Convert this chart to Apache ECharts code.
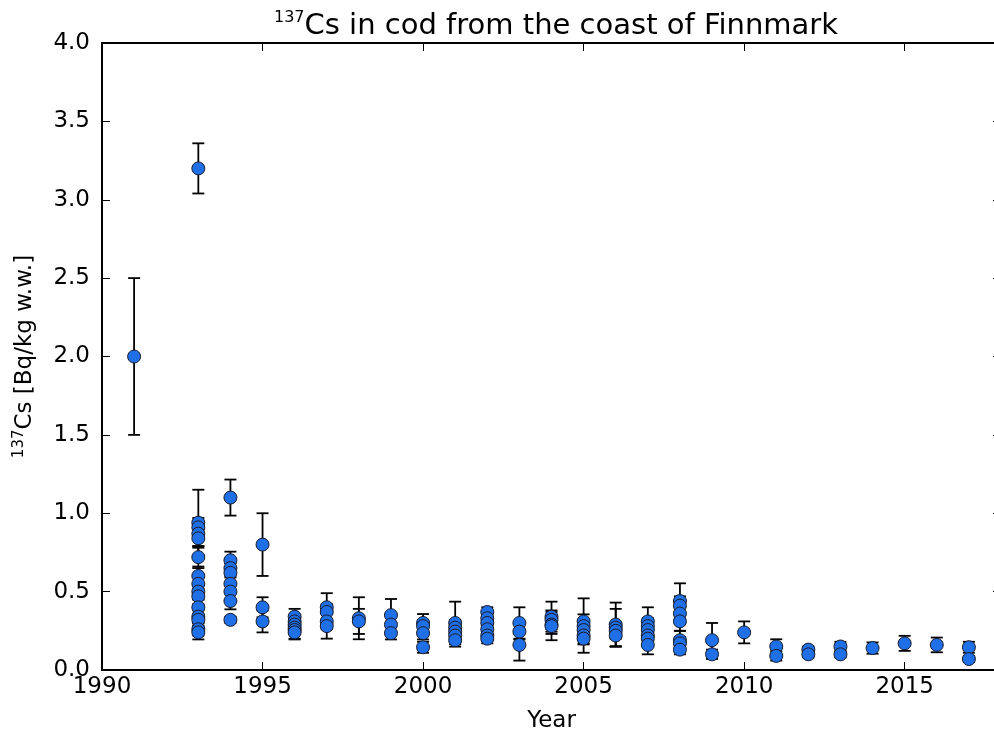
<!DOCTYPE html>
<html>
<head>
<meta charset="utf-8">
<script src="https://cdn.jsdelivr.net/npm/echarts@6/dist/echarts.min.js"></script>
<style>
html,body{margin:0;padding:0;background:#fff;}
#chart{width:994px;height:734px;}
</style>
</head>
<body>
<div id="chart"></div>
<script>
// Sampling year of each measurement
const years = [
  1991,
  1993,1993,1993,1993,1993,1993,1993,1993,1993,1993,1993,1993,1993,1993,1993,
  1994,1994,1994,1994,1994,1994,1994,1994,
  1995,1995,1995,
  1996,1996,1996,1996,1996,1996,
  1997,1997,1997,1997,
  1998,1998,
  1999,1999,1999,
  2000,2000,2000,2000,
  2001,2001,2001,2001,2001,
  2002,2002,2002,2002,2002,2002,
  2003,2003,2003,
  2004,2004,2004,2004,
  2005,2005,2005,2005,2005,
  2006,2006,2006,2006,
  2007,2007,2007,2007,2007,2007,
  2008,2008,2008,2008,2008,2008,2008,
  2009,2009,
  2010,
  2011,2011,
  2012,2012,
  2013,2013,
  2014,
  2015,
  2016,
  2017,2017
];
// 137Cs activity concentration [Bq/kg w.w.]
const values = [
  2.00,
  3.20,0.94,0.91,0.87,0.84,0.72,0.60,0.55,0.50,0.47,0.40,0.34,0.32,0.26,0.24,
  1.10,0.70,0.65,0.62,0.55,0.50,0.44,0.32,
  0.80,0.40,0.31,
  0.34,0.31,0.29,0.27,0.255,0.24,
  0.40,0.37,0.31,0.28,
  0.33,0.31,
  0.35,0.29,0.235,
  0.30,0.28,0.235,0.145,
  0.30,0.27,0.245,0.22,0.19,
  0.37,0.33,0.30,0.26,0.22,0.20,
  0.30,0.245,0.16,
  0.34,0.32,0.29,0.28,
  0.31,0.28,0.255,0.22,0.20,
  0.29,0.27,0.25,0.22,
  0.31,0.28,0.255,0.22,0.20,0.16,
  0.44,0.41,0.36,0.31,0.19,0.17,0.13,
  0.19,0.10,
  0.24,
  0.15,0.09,
  0.13,0.10,
  0.15,0.10,
  0.14,
  0.17,
  0.16,
  0.145,0.07
];
// Uncertainty (one-sided error bar length)
const errors = [
  0.50,
  0.16,0.21,0.06,0.08,0.06,0.07,0.06,0.06,0.05,0.05,0.05,0.04,0.04,0.04,0.045,
  0.115,0.055,0.06,0.06,0.05,0.05,0.053,0.02,
  0.20,0.064,0.07,
  0.05,0.04,0.04,0.04,0.06,0.04,
  0.09,0.05,0.05,0.08,
  0.134,0.08,
  0.103,0.05,0.04,
  0.057,0.04,0.04,0.035,
  0.136,0.05,0.05,0.04,0.041,
  0.03,0.03,0.03,0.03,0.03,0.03,
  0.10,0.05,0.10,
  0.096,0.06,0.06,0.09,
  0.147,0.075,0.06,0.05,0.09,
  0.14,0.12,0.05,0.07,
  0.09,0.05,0.05,0.05,0.05,0.06,
  0.113,0.06,0.05,0.06,0.06,0.04,0.03,
  0.11,0.03,
  0.07,
  0.046,0.03,
  0.02,0.02,
  0.03,0.02,
  0.036,
  0.048,
  0.047,
  0.035,0.02
];
const yTicks = [0.0,0.5,1.0,1.5,2.0,2.5,3.0,3.5,4.0];
const xTicks = [1990,1995,2000,2005,2010,2015];
const xMin = 1990, xMax = 2018;

const FONT = 'DejaVu Sans';
const points = years.map((y,i)=>[y, values[i], errors[i]]);

const chart = echarts.init(document.getElementById('chart'), null, {renderer:'canvas'});

const axisCommon = {
  axisLine:{show:true, onZero:false, lineStyle:{color:'#000', width:2}},
  axisTick:{show:true, inside:true, length:8, lineStyle:{color:'#000', width:1}},
  splitLine:{show:false}
};

chart.setOption({
  animation:false,
  backgroundColor:'#fff',
  title:{
    text:'{sup|137}{main|Cs in cod from the coast of Finnmark}',
    left:551, top:5, textAlign:'center',
    textStyle:{
      rich:{
        main:{fontFamily:FONT, fontSize:29, fontWeight:'normal', color:'#000', lineHeight:33},
        sup:{fontFamily:FONT, fontSize:16, fontWeight:'normal', color:'#000', verticalAlign:'top', lineHeight:16}
      }
    }
  },
  grid:{left:102, top:43, width:899, height:627, containLabel:false, outerBoundsMode:'none'},
  xAxis:[
    Object.assign({}, axisCommon, {
      type:'value', min:xMin, max:xMax, interval:5, position:'bottom',
      name:'Year', nameLocation:'middle', nameGap:40,
      nameTextStyle:{fontFamily:FONT, fontSize:23, color:'#000'},
      axisLabel:{fontFamily:FONT, fontSize:23, color:'#000', margin:6,
        showMaxLabel:false,
        formatter:v=> xTicks.indexOf(v)>=0 ? String(v) : ''}
    }),
    Object.assign({}, axisCommon, {
      type:'value', min:xMin, max:xMax, interval:5, position:'top',
      axisLabel:{show:false}
    })
  ],
  yAxis:[
    Object.assign({}, axisCommon, {
      type:'value', min:0, max:4, interval:0.5, position:'left',
      name:'{sup|137}{main|Cs [Bq/kg w.w.]}', nameLocation:'middle', nameGap:64, nameRotate:90,
      nameTextStyle:{
        rich:{
          main:{fontFamily:FONT, fontSize:23, color:'#000', lineHeight:26},
          sup:{fontFamily:FONT, fontSize:15, color:'#000', verticalAlign:'top', lineHeight:15}
        }
      },
      axisLabel:{fontFamily:FONT, fontSize:23, color:'#000', margin:12,
        formatter:v=> yTicks.indexOf(v)>=0 ? v.toFixed(1) : ''}
    }),
    Object.assign({}, axisCommon, {
      type:'value', min:0, max:4, interval:0.5, position:'right',
      axisLabel:{show:false}
    })
  ],
  series:[
    {
      type:'custom',
      xAxisIndex:0, yAxisIndex:0,
      data:points,
      z:2,
      renderItem:function(params, api){
        const x = api.value(0), y = api.value(1), e = api.value(2);
        const top = api.coord([x, y+e]);
        const bot = api.coord([x, y-e]);
        const cw = 6;
        const st = {stroke:'#000', lineWidth:1.8};
        return {type:'group', children:[
          {type:'line', shape:{x1:top[0], y1:top[1], x2:bot[0], y2:bot[1]}, style:st},
          {type:'line', shape:{x1:top[0]-cw, y1:top[1], x2:top[0]+cw, y2:top[1]}, style:st},
          {type:'line', shape:{x1:bot[0]-cw, y1:bot[1], x2:bot[0]+cw, y2:bot[1]}, style:st}
        ]};
      },
      encode:{x:0, y:1}
    },
    {
      type:'scatter',
      xAxisIndex:0, yAxisIndex:0,
      data:points.map(p=>[p[0],p[1]]),
      symbol:'circle', symbolSize:13,
      z:3,
      itemStyle:{color:'#1f6fe6', borderColor:'#1a1a2a', borderWidth:1, opacity:1}
    }
  ]
});
</script>
</body>
</html>
